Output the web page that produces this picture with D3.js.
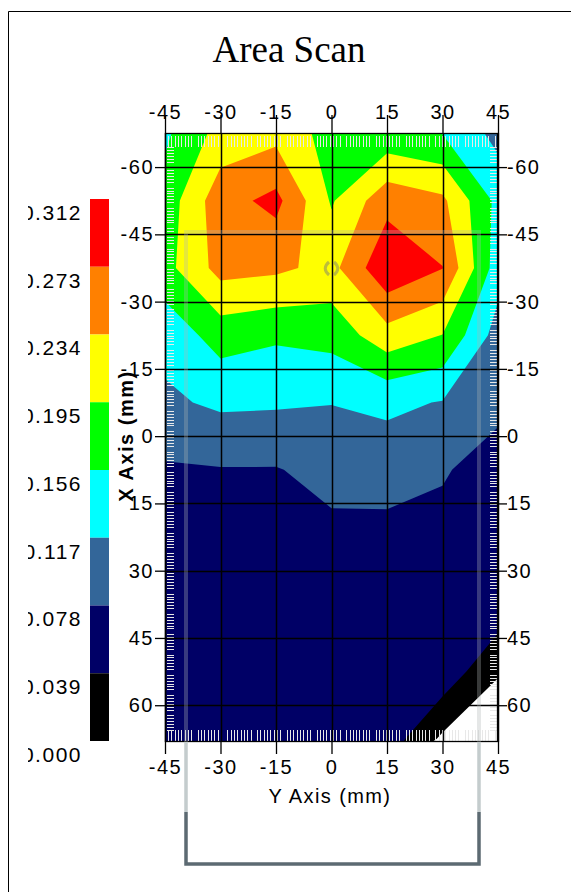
<!DOCTYPE html>
<html><head><meta charset="utf-8">
<script src="https://cdn.jsdelivr.net/npm/d3@7"></script>
<style>html,body{margin:0;padding:0;background:#fff;} svg{display:block;}</style>
</head><body>
<script>
// ---- data ----
const xNodes = [-45, -30, -15, 0, 15, 30, 45];
const yNodes = [-67.5, -52.5, -37.5, -22.5, -7.5, 7.5, 22.5, 37.5, 52.5, 67.5];
const row_m675 = [0.149, 0.209, 0.222, 0.180, 0.168, 0.155, 0.105];
const row_m525 = [0.172, 0.258, 0.284, 0.191, 0.260, 0.242, 0.145];
const row_m375 = [0.182, 0.248, 0.242, 0.222, 0.305, 0.274, 0.135];
const row_m225 = [0.130, 0.173, 0.162, 0.170, 0.219, 0.194, 0.100];
const row_m75  = [0.110, 0.124, 0.122, 0.118, 0.125, 0.115, 0.085];
const row_p75  = [0.0734, 0.076, 0.076, 0.090, 0.095, 0.0805, 0.066];
const row_p225 = [0.070, 0.068, 0.067, 0.069, 0.066, 0.070, 0.068];
const row_p375 = [0.068, 0.065, 0.064, 0.062, 0.060, 0.068, 0.066];
const row_p525 = [0.065, 0.062, 0.060, 0.058, 0.062, 0.066, 0.0033];
const row_p675 = [0.060, 0.058, 0.056, 0.058, 0.0616, -0.007, -0.030];
const gridRows = [row_m675, row_m525, row_m375, row_m225, row_m75, row_p75, row_p225, row_p375, row_p525, row_p675];

const thresholds = [0, 0.039, 0.078, 0.117, 0.156, 0.195, 0.234, 0.273];
const levelColors = ["#000000", "#000066", "#336699", "#00ffff", "#00ff00", "#ffff00", "#ff8000", "#ff0000"];
const legendValues = [0.312, 0.273, 0.234, 0.195, 0.156, 0.117, 0.078, 0.039, 0.000];
const legendColors = ["#ff0000", "#ff8000", "#ffff00", "#00ff00", "#00ffff", "#336699", "#000066", "#000000"];
const xTicks = [-45, -30, -15, 0, 15, 30, 45];
const yTicks = [-60, -45, -30, -15, 0, 15, 30, 45, 60];
const titleText = "Area Scan";
const xLabel = "Y Axis (mm)";
const yLabel = "X Axis (mm)";

// ---- layout ----
const W = 571, H = 892;
const plot = {left: 165, right: 498, top: 133, bottom: 742};
const sans = "'Liberation Sans', Arial, sans-serif";

const svg = d3.select("body").append("svg").attr("width", W).attr("height", H)
  .style("background", "#fff");

const x = d3.scaleLinear().domain([-45, 45]).range([plot.left, plot.right]);
const y = d3.scaleLinear().domain([-67.6, 68.2]).range([plot.top, plot.bottom]);

// frame
svg.append("path").attr("d", `M8.5,${H} V11.5 H${W}`).attr("fill", "none").attr("stroke", "#000").attr("stroke-width", 1);

// title
svg.append("text").attr("x", 289).attr("y", 62).attr("text-anchor", "middle")
  .attr("font-family", "'Liberation Serif', 'Times New Roman', serif").attr("font-size", 37)
  .attr("fill", "#000").text(titleText);

// clip
const defs = svg.append("defs");
defs.append("clipPath").attr("id", "plotclip").append("rect")
  .attr("x", plot.left).attr("y", plot.top).attr("width", plot.right - plot.left).attr("height", plot.bottom - plot.top);
defs.append("clipPath").attr("id", "legclip").append("rect")
  .attr("x", 28).attr("y", 0).attr("width", 120).attr("height", H);

// contours
const nx = xNodes.length, ny = yNodes.length;
const flat = gridRows.flat();
const cont = d3.contours().size([nx, ny]).thresholds(thresholds)(flat);
const stepX = xNodes[1] - xNodes[0], stepY = yNodes[1] - yNodes[0];
const proj = d3.geoTransform({
  point(px, py) {
    this.stream.point(x(xNodes[0] + (px - 0.5) * stepX), y(yNodes[0] + (py - 0.5) * stepY));
  }
});
const path = d3.geoPath(proj);
const gPlot = svg.append("g").attr("clip-path", "url(#plotclip)");
gPlot.append("rect").attr("x", plot.left).attr("y", plot.top)
  .attr("width", plot.right - plot.left).attr("height", plot.bottom - plot.top).attr("fill", "#fff");
gPlot.selectAll("path.lvl").data(cont).join("path").attr("class", "lvl")
  .attr("d", path).attr("fill", (d, i) => levelColors[i]).attr("stroke", "none");

// scan hash marks along inner edges
const hash = gPlot.append("g").attr("stroke", "#e8e8e8").attr("stroke-width", 1);
d3.range(plot.left + 3, plot.right - 2, 3.3).forEach((px, i) => {
  if (i % 9 === 8) return;
  const xx = Math.round(px) + 0.5;
  hash.append("line").attr("x1", xx).attr("x2", xx).attr("y1", plot.top + 3).attr("y2", plot.top + 14);
  hash.append("line").attr("x1", xx).attr("x2", xx).attr("y1", plot.bottom - 12).attr("y2", plot.bottom - 1);
});
d3.range(plot.top + 14, plot.bottom - 12, 2.9).forEach((py, i) => {
  if (i % 7 === 6) return;
  const yy = Math.round(py) + 0.5;
  hash.append("line").attr("x1", plot.left + 2).attr("x2", plot.left + 9).attr("y1", yy).attr("y2", yy);
  hash.append("line").attr("x1", plot.right - 8).attr("x2", plot.right - 1).attr("y1", yy).attr("y2", yy);
});

// grid lines
const grid = svg.append("g").attr("stroke", "#000").attr("stroke-width", 1.5);
xTicks.forEach(v => {
  const xx = Math.round(x(v)) + 0.5;
  grid.append("line").attr("x1", xx).attr("x2", xx).attr("y1", plot.top).attr("y2", plot.bottom);
});
yTicks.forEach(v => {
  const yy = Math.round(y(v)) + 0.5;
  grid.append("line").attr("x1", plot.left).attr("x2", plot.right).attr("y1", yy).attr("y2", yy);
});
svg.append("rect").attr("x", plot.left + 0.5).attr("y", plot.top + 0.5)
  .attr("width", plot.right - plot.left - 1).attr("height", plot.bottom - plot.top - 1)
  .attr("fill", "none").attr("stroke", "#000").attr("stroke-width", 1.3);

// gray overlay bracket
const bx0 = 186, bx1 = 479, byTop = 232, byMid = 812, byBot = 864;
svg.append("path").attr("d", `M${bx0},${plot.bottom} V${byTop} H${bx1} V${plot.bottom}`)
  .attr("fill", "none").attr("stroke", "rgba(175,180,180,0.32)").attr("stroke-width", 4);
svg.append("path").attr("d", `M${bx0},${plot.bottom} V${byMid} M${bx1},${plot.bottom} V${byMid}`)
  .attr("fill", "none").attr("stroke", "#c4cccd").attr("stroke-width", 3.5);
svg.append("path").attr("d", `M${bx0},${byMid} V${byBot} H${bx1} V${byMid}`)
  .attr("fill", "none").attr("stroke", "#5c6a72").attr("stroke-width", 3.5);

// center marker
svg.append("path").attr("d", "M329,262 Q321.5,268.5 329,275 M334,262 Q341.5,268.5 334,275")
  .attr("fill", "none").attr("stroke", "rgba(135,135,105,0.55)").attr("stroke-width", 3);

// axes
const fmt = d => String(d);
function styleAxis(g) {
  g.attr("font-family", sans).attr("font-size", 20).attr("letter-spacing", "1.5px");
  g.select(".domain").remove();
  g.selectAll("line").attr("stroke-width", 1.3);
  g.selectAll("text").attr("fill", "#000");
}
const gTop = svg.append("g").attr("transform", `translate(0,${plot.top})`)
  .call(d3.axisTop(x).tickValues(xTicks).tickFormat(fmt).tickSize(18).tickSizeOuter(0));
styleAxis(gTop);
gTop.selectAll("text").attr("y", -14).attr("dy", null);

const gBot = svg.append("g").attr("transform", `translate(0,${plot.bottom})`)
  .call(d3.axisBottom(x).tickValues(xTicks).tickFormat(fmt).tickSize(12).tickSizeOuter(0));
styleAxis(gBot);
gBot.selectAll("text").attr("y", 32).attr("dy", null);

const gLeft = svg.append("g").attr("transform", `translate(${plot.left},0)`)
  .call(d3.axisLeft(y).tickValues(yTicks).tickFormat(fmt).tickSize(10).tickSizeOuter(0));
styleAxis(gLeft);
gLeft.selectAll("text").attr("x", -11);

const gRight = svg.append("g").attr("transform", `translate(${plot.right},0)`)
  .call(d3.axisRight(y).tickValues(yTicks).tickFormat(fmt).tickSize(9).tickSizeOuter(0));
styleAxis(gRight);
gRight.selectAll("text").attr("x", 9);

// axis titles
svg.append("text").attr("x", 330).attr("y", 803).attr("text-anchor", "middle")
  .attr("font-family", sans).attr("font-size", 20).attr("letter-spacing", "1.4px").text(xLabel);
svg.append("text").attr("transform", "translate(133,436) rotate(-90)").attr("text-anchor", "middle")
  .attr("font-family", sans).attr("font-size", 20).attr("font-weight", "bold")
  .attr("letter-spacing", "1.5px").text(yLabel);

// legend
const legendY = d3.scaleLinear().domain([legendValues[0], legendValues[legendValues.length - 1]]).range([199, 741]);
const gLeg = svg.append("g");
gLeg.selectAll("rect").data(legendColors).join("rect")
  .attr("x", 90).attr("width", 19)
  .attr("y", (d, i) => legendY(legendValues[i]))
  .attr("height", (d, i) => legendY(legendValues[i + 1]) - legendY(legendValues[i]))
  .attr("fill", d => d);
const gLegAx = svg.append("g").attr("clip-path", "url(#legclip)")
  .append("g").attr("transform", "translate(82,0)")
  .call(d3.axisLeft(legendY).tickValues(legendValues).tickFormat(d3.format(".3f")).tickSize(0).tickPadding(0));
gLegAx.attr("font-family", sans).attr("font-size", 21).attr("letter-spacing", "1.5px");
gLegAx.select(".domain").remove();
gLegAx.selectAll("text").attr("fill", "#000").attr("y", 13).attr("dy", "0.35em");
</script>
</body></html>
